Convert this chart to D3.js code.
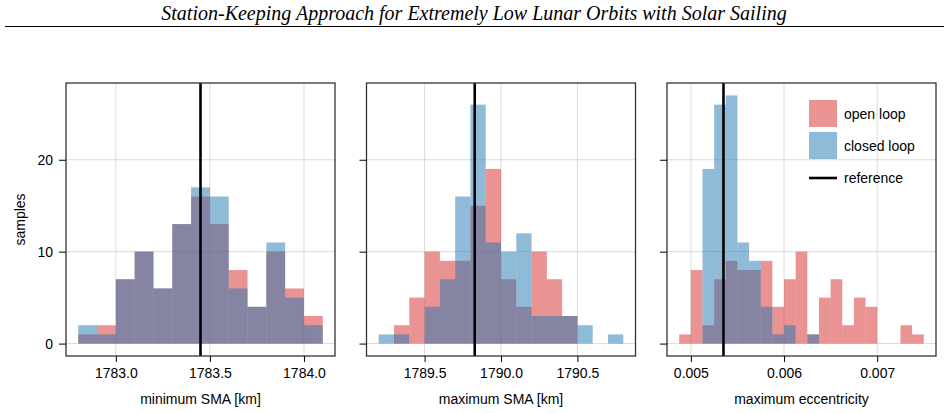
<!DOCTYPE html>
<html>
<head>
<meta charset="utf-8">
<script src="https://cdn.jsdelivr.net/npm/d3@7"></script>
<style>
  body { margin: 0; background: #fff; }
  text { font-family: "Liberation Sans", Arial, sans-serif; }
</style>
</head>
<body>
<script>
// bins: start value, width, and counts per series
var minSmaStart = 1782.8, minSmaWidth = 0.1;
var minSmaOpen   = [1, 2, 7, 10, 6, 13, 16, 13, 8, 4, 10, 6, 3];
var minSmaClosed = [2, 1, 7, 10, 6, 13, 17, 16, 6, 4, 11, 5, 2];
var minSmaRef = 1783.45;

var maxSmaStart = 1789.2, maxSmaWidth = 0.1;
var maxSmaOpen   = [0, 2, 5, 10, 9, 9, 15, 19, 7, 4, 10, 7, 3, 0, 0, 0];
var maxSmaClosed = [1, 1, 0, 4, 7, 16, 26, 11, 10, 12, 3, 3, 3, 2, 0, 1];
var maxSmaRef = 1789.828;

var eccStart = 0.004875, eccWidth = 0.000125;
var eccOpen   = [1, 8, 2, 7, 9, 8, 8, 9, 4, 7, 10, 1, 5, 7, 2, 5, 4, 0, 0, 2, 1];
var eccClosed = [0, 0, 19, 26, 27, 11, 9, 4, 1, 2, 0, 1, 0, 0, 0, 0, 0, 0, 0, 0, 0];
var eccRef = 0.00535;

var yTicks = [0, 10, 20];
var panelLabels = ["minimum SMA [km]", "maximum SMA [km]", "maximum eccentricity"];
var panelTicks = [
  [1783.0, 1783.5, 1784.0],
  [1789.5, 1790.0, 1790.5],
  [0.005, 0.006, 0.007]
];
var tickFormats = [d3.format(".1f"), d3.format(".1f"), d3.format(".3f")];
var legendNames = ["open loop", "closed loop", "reference"];

var openColor = "#d62728", closedColor = "#1f77b4";

var width = 948, height = 413;
var svg = d3.select("body").append("svg")
  .attr("width", width)
  .attr("height", height);

// header
svg.append("text")
  .attr("x", 474).attr("y", 20)
  .attr("text-anchor", "middle")
  .style("font-family", "'Liberation Serif', 'Times New Roman', serif")
  .style("font-style", "italic")
  .style("font-size", "20px")
  .text("Station-Keeping Approach for Extremely Low Lunar Orbits with Solar Sailing");
svg.append("line")
  .attr("x1", 5).attr("x2", 944)
  .attr("y1", 26.5).attr("y2", 26.5)
  .attr("stroke", "#000").attr("stroke-width", 1);

var panels = [
  {start: minSmaStart, w: minSmaWidth, open: minSmaOpen, closed: minSmaClosed, ref: minSmaRef, left: 66},
  {start: maxSmaStart, w: maxSmaWidth, open: maxSmaOpen, closed: maxSmaClosed, ref: maxSmaRef, left: 366.5},
  {start: eccStart, w: eccWidth, open: eccOpen, closed: eccClosed, ref: eccRef, left: 667}
];

var pw = 269, plotTop = 83, plotBottom = 356;
var yMax = d3.max(panels, p => d3.max(p.open.concat(p.closed)));
var yScale = d3.scaleLinear()
  .domain([-0.05 * yMax, yMax * 1.05])
  .range([plotBottom, plotTop]);

panels.forEach(function(p, k) {
  var n = p.open.length;
  var lo = p.start, hi = p.start + n * p.w;
  var pad = (hi - lo) * 0.05;
  var x = d3.scaleLinear().domain([lo - pad, hi + pad]).range([p.left, p.left + pw]);

  var g = svg.append("g");

  // grid
  g.selectAll(".vgrid").data(panelTicks[k]).join("line")
    .attr("x1", d => x(d)).attr("x2", d => x(d))
    .attr("y1", plotTop).attr("y2", plotBottom)
    .attr("stroke", "#b0b0b0").attr("stroke-opacity", 0.45).attr("stroke-width", 1);
  g.selectAll(".hgrid").data(yTicks).join("line")
    .attr("x1", p.left).attr("x2", p.left + pw)
    .attr("y1", d => yScale(d)).attr("y2", d => yScale(d))
    .attr("stroke", "#b0b0b0").attr("stroke-opacity", 0.45).attr("stroke-width", 1);

  function bars(counts, color) {
    var bins = counts.map((c, i) => ({x0: p.start + i * p.w, x1: p.start + (i + 1) * p.w, c: c}))
      .filter(b => b.c > 0);
    g.append("g").selectAll("rect").data(bins).join("rect")
      .attr("x", d => x(d.x0))
      .attr("width", d => x(d.x1) - x(d.x0))
      .attr("y", d => yScale(d.c))
      .attr("height", d => yScale(0) - yScale(d.c))
      .attr("fill", color)
      .attr("fill-opacity", 0.5);
  }
  bars(p.open, openColor);
  bars(p.closed, closedColor);

  // reference
  g.append("line")
    .attr("x1", x(p.ref)).attr("x2", x(p.ref))
    .attr("y1", plotTop).attr("y2", plotBottom)
    .attr("stroke", "#000").attr("stroke-width", 2.6);

  // frame
  g.append("rect")
    .attr("x", p.left).attr("y", plotTop)
    .attr("width", pw).attr("height", plotBottom - plotTop)
    .attr("fill", "none").attr("stroke", "#333").attr("stroke-width", 1.3);

  // axes
  var xAxis = d3.axisBottom(x).tickValues(panelTicks[k]).tickFormat(tickFormats[k])
    .tickSize(6).tickPadding(6);
  var ax = g.append("g").attr("transform", "translate(0," + plotBottom + ")").call(xAxis);
  ax.select(".domain").remove();
  ax.selectAll("text").style("font-size", "14px").attr("fill", "#000")
    .style("font-family", "'Liberation Sans', Arial, sans-serif");

  var yAxis = d3.axisLeft(yScale).tickValues(yTicks).tickSize(7).tickPadding(6)
    .tickFormat(k === 0 ? d3.format("d") : "");
  var ay = g.append("g").attr("transform", "translate(" + p.left + ",0)").call(yAxis);
  ay.select(".domain").remove();
  ay.selectAll("text").style("font-size", "14px").attr("fill", "#000")
    .style("font-family", "'Liberation Sans', Arial, sans-serif");

  g.append("text")
    .attr("x", p.left + pw / 2).attr("y", 404)
    .attr("text-anchor", "middle")
    .style("font-size", "14px")
    .text(panelLabels[k]);
});

svg.append("text")
  .attr("transform", "translate(25," + ((plotTop + plotBottom) / 2) + ") rotate(-90)")
  .attr("text-anchor", "middle")
  .style("font-size", "14px")
  .text("samples");

// legend in last panel
var lg = svg.append("g").attr("transform", "translate(809,100)");
lg.append("rect").attr("x", 0).attr("y", 0).attr("width", 28).attr("height", 27)
  .attr("fill", openColor).attr("fill-opacity", 0.5);
lg.append("rect").attr("x", 0).attr("y", 32).attr("width", 28).attr("height", 27)
  .attr("fill", closedColor).attr("fill-opacity", 0.5);
lg.append("line").attr("x1", 0).attr("x2", 28).attr("y1", 78).attr("y2", 78)
  .attr("stroke", "#000").attr("stroke-width", 2.6);
lg.selectAll(".lt").data(legendNames).join("text")
  .attr("x", 35)
  .attr("y", (d, i) => [14, 46.5, 78][i])
  .attr("dy", "0.35em")
  .style("font-size", "14px")
  .text(d => d);
</script>
</body>
</html>
